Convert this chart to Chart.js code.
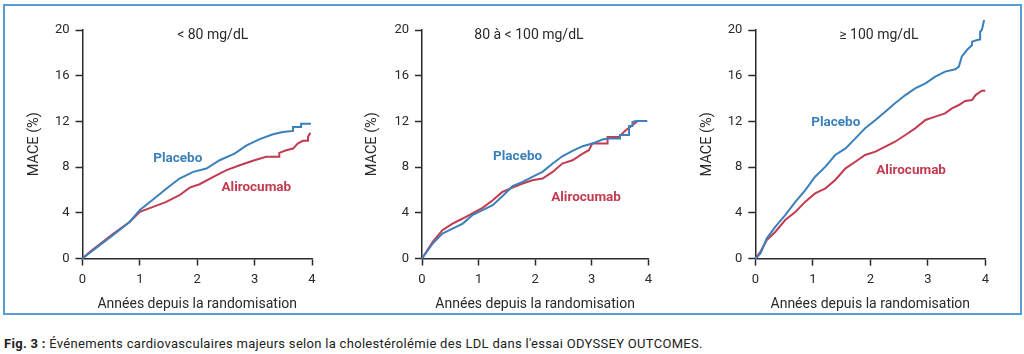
<!DOCTYPE html>
<html>
<head>
<meta charset="utf-8">
<script src="https://cdn.jsdelivr.net/npm/chart.js@4"></script>
<style>
  body { margin: 0; background: #fff; width: 1024px; height: 354px; position: relative; overflow: hidden; font-family: Roboto, sans-serif; }
  #box { position: absolute; left: 3px; top: 4px; width: 1019px; height: 311px; box-sizing: border-box; border: 2.5px solid #5a9dd5; }
  .panel { position: absolute; top: 0; height: 320px; }
  #caption { position: absolute; left: 4px; top: 336px; font-size: 13px; letter-spacing: 0.3px; color: #222; white-space: nowrap; }
</style>
</head>
<body>
<div id="box"></div>
<div class="panel" style="left:0;width:340px"><canvas id="c1"></canvas></div>
<div class="panel" style="left:340px;width:340px"><canvas id="c2"></canvas></div>
<div class="panel" style="left:680px;width:344px"><canvas id="c3"></canvas></div>
<div id="caption"><b>Fig. 3 :</b> Événements cardiovasculaires majeurs selon la cholestérolémie des LDL dans l'essai ODYSSEY OUTCOMES.</div>

<script>
// valeurs (années, MACE %)
const xTicks = [0, 1, 2, 3, 4];
const yTicks = [0, 4, 8, 12, 16, 20];

// < 80 mg/dL
const p1PlaceboX = [0, 0.1, 0.3, 0.53, 0.82, 1.0, 1.23, 1.46, 1.69, 1.93, 2.16, 2.39, 2.65, 2.86, 3.09, 3.32, 3.49, 3.67, 3.67, 3.81, 3.81, 3.98];
const p1PlaceboY = [0, 0.4, 1.17, 2.04, 3.2, 4.25, 5.16, 6.1, 7.0, 7.58, 7.87, 8.6, 9.18, 9.9, 10.45, 10.87, 11.08, 11.17, 11.5, 11.5, 11.8, 11.8];
const p1AliroX = [0, 0.13, 0.53, 0.82, 1.0, 1.23, 1.46, 1.69, 1.87, 2.04, 2.28, 2.51, 2.74, 2.97, 3.2, 3.43, 3.43, 3.55, 3.67, 3.75, 3.84, 3.93, 3.93, 3.97];
const p1AliroY = [0, 0.58, 2.13, 3.2, 4.08, 4.52, 4.96, 5.54, 6.2, 6.5, 7.14, 7.73, 8.16, 8.55, 8.9, 8.9, 9.24, 9.47, 9.62, 10.06, 10.3, 10.3, 10.64, 11.0];

// 80 à < 100 mg/dL
const p2PlaceboX = [0, 0.19, 0.36, 0.54, 0.72, 0.89, 1.07, 1.25, 1.42, 1.6, 1.78, 1.95, 2.13, 2.31, 2.48, 2.66, 2.84, 3.01, 3.19, 3.3, 3.5, 3.5, 3.66, 3.66, 3.72, 3.72, 3.78, 3.98];
const p2PlaceboY = [0, 1.31, 2.19, 2.62, 3.06, 3.79, 4.23, 4.66, 5.45, 6.33, 6.7, 7.14, 7.58, 8.31, 8.95, 9.42, 9.83, 10.06, 10.41, 10.5, 10.5, 10.8, 10.8, 11.6, 11.6, 11.95, 12.04, 12.04];
const p2AliroX = [0, 0.19, 0.36, 0.54, 0.72, 0.89, 1.07, 1.25, 1.42, 1.6, 1.78, 1.95, 2.13, 2.31, 2.48, 2.66, 2.84, 2.95, 3.01, 3.28, 3.28, 3.48, 3.54, 3.6, 3.72, 3.81, 3.98];
const p2AliroY = [0, 1.46, 2.48, 3.06, 3.5, 3.94, 4.43, 5.1, 5.83, 6.21, 6.56, 6.85, 7.0, 7.58, 8.31, 8.6, 9.18, 9.48, 10.06, 10.06, 10.64, 10.64, 10.93, 11.22, 11.66, 12.04, 12.04];

// >= 100 mg/dL
const p3PlaceboX = [0, 0.09, 0.2, 0.35, 0.52, 0.7, 0.87, 1.04, 1.22, 1.39, 1.57, 1.74, 1.91, 2.09, 2.26, 2.43, 2.61, 2.78, 2.96, 3.13, 3.3, 3.48, 3.54, 3.59, 3.68, 3.77, 3.77, 3.86, 3.91, 3.91, 3.94, 3.98];
const p3PlaceboY = [0, 0.47, 1.78, 2.8, 3.82, 4.99, 6.0, 7.17, 8.05, 9.07, 9.65, 10.52, 11.4, 12.13, 12.86, 13.59, 14.31, 14.9, 15.33, 15.92, 16.36, 16.56, 16.8, 17.67, 18.25, 18.69, 18.98, 19.13, 19.18, 19.85, 20.0, 20.87];
const p3AliroX = [0, 0.09, 0.2, 0.35, 0.52, 0.7, 0.87, 1.04, 1.22, 1.39, 1.57, 1.74, 1.91, 2.09, 2.26, 2.43, 2.61, 2.78, 2.96, 3.13, 3.3, 3.42, 3.54, 3.65, 3.77, 3.83, 3.94, 4.0];
const p3AliroY = [0, 0.61, 1.63, 2.36, 3.38, 4.11, 4.99, 5.71, 6.15, 6.88, 7.9, 8.48, 9.07, 9.36, 9.8, 10.23, 10.82, 11.4, 12.13, 12.42, 12.71, 13.15, 13.44, 13.79, 13.88, 14.31, 14.69, 14.69];

const BLUE = '#3b80bb';
const RED = '#c23b51';
const INK = '#2a2a2a';

const textPlugin = {
  id: 'curveText',
  afterDatasetsDraw(chart, args, opts) {
    const { ctx, scales: { x, y } } = chart;
    ctx.save();
    ctx.textAlign = 'center';
    ctx.textBaseline = 'middle';
    (opts.items || []).forEach(it => {
      ctx.font = it.font;
      ctx.fillStyle = it.color;
      ctx.fillText(it.text, x.getPixelForValue(it.x), y.getPixelForValue(it.y));
    });
    ctx.restore();
  }
};

function pts(xs, ys) {
  return xs.map((v, i) => ({ x: v, y: ys[i] }));
}

function makePanel(id, placebo, aliro, cfg) {
  new Chart(document.getElementById(id), {
    type: 'line',
    data: {
      datasets: [
        { label: 'Placebo', data: placebo, borderColor: BLUE, borderWidth: 2, pointRadius: 0, tension: 0, clip: false },
        { label: 'Alirocumab', data: aliro, borderColor: RED, borderWidth: 2, pointRadius: 0, tension: 0, clip: false }
      ]
    },
    options: {
      responsive: true,
      maintainAspectRatio: false,
      animation: false,
      events: [],
      layout: { padding: { top: 30, right: cfg.right, left: 0, bottom: 0 } },
      plugins: {
        legend: { display: false },
        tooltip: { enabled: false },
        curveText: { items: cfg.labels }
      },
      scales: {
        x: {
          type: 'linear', min: 0, max: 4,
          afterFit: s => { s.height = cfg.xHeight; },
          afterBuildTicks: s => { s.ticks = xTicks.map(v => ({ value: v })); },
          border: { display: true, color: INK, width: 1.5 },
          grid: { drawOnChartArea: false, drawTicks: true, tickLength: 7, tickColor: INK, tickWidth: 1.5 },
          ticks: { color: INK, font: { family: 'Roboto', size: 13 }, padding: 6, maxRotation: 0 },
          title: { display: true, text: 'Années depuis la randomisation', color: INK, font: { family: 'Roboto', size: 14 }, padding: { top: 0, bottom: 7 } }
        },
        y: {
          min: 0, max: 20,
          afterFit: s => { s.width = cfg.left; },
          afterBuildTicks: s => { s.ticks = yTicks.map(v => ({ value: v })); },
          border: { display: true, color: INK, width: 1.5 },
          grid: { drawOnChartArea: false, drawTicks: true, tickLength: 7, tickColor: INK, tickWidth: 1.5 },
          ticks: { color: INK, font: { family: 'Roboto', size: 13 }, padding: 6 },
          title: { display: true, text: 'MACE (%)', color: INK, font: { family: 'Roboto', size: 14.5 }, padding: { top: cfg.yTitlePad, bottom: 0 } }
        }
      }
    },
    plugins: [textPlugin]
  });
}

makePanel('c1', pts(p1PlaceboX, p1PlaceboY), pts(p1AliroX, p1AliroY), {
  left: 82.5, right: 28, xHeight: 61.5, yTitlePad: 26,
  labels: [
    { text: '< 80 mg/dL', x: 2.27, y: 19.55, font: '14px Roboto', color: INK },
    { text: 'Placebo', x: 1.66, y: 8.7, font: 'bold 13.5px Roboto', color: BLUE },
    { text: 'Alirocumab', x: 3.03, y: 6.17, font: 'bold 13.5px Roboto', color: RED }
  ]
});

makePanel('c2', pts(p2PlaceboX, p2PlaceboY), pts(p2AliroX, p2AliroY), {
  left: 82, right: 31.7, xHeight: 61.5, yTitlePad: 24,
  labels: [
    { text: '80 à < 100 mg/dL', x: 1.89, y: 19.55, font: '14px Roboto', color: INK },
    { text: 'Placebo', x: 1.69, y: 8.88, font: 'bold 13.5px Roboto', color: BLUE },
    { text: 'Alirocumab', x: 2.9, y: 5.3, font: 'bold 13.5px Roboto', color: RED }
  ]
});

makePanel('c3', pts(p3PlaceboX, p3PlaceboY), pts(p3AliroX, p3AliroY), {
  left: 75.3, right: 38.7, xHeight: 61.3, yTitlePad: 19,
  labels: [
    { text: '≥ 100 mg/dL', x: 2.15, y: 19.55, font: '14px Roboto', color: INK },
    { text: 'Placebo', x: 1.4, y: 11.9, font: 'bold 13.5px Roboto', color: BLUE },
    { text: 'Alirocumab', x: 2.71, y: 7.7, font: 'bold 13.5px Roboto', color: RED }
  ]
});
</script>
</body>
</html>
